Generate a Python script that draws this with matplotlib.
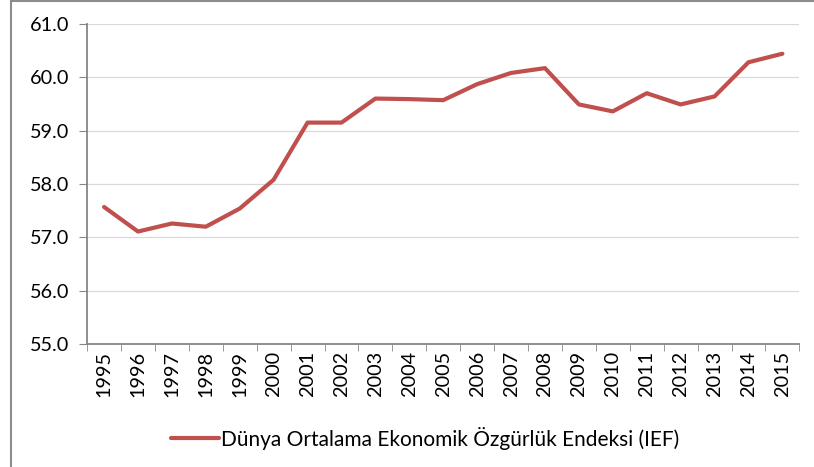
import matplotlib.pyplot as plt
from matplotlib.lines import Line2D

# data
years = ['1995', '1996', '1997', '1998', '1999', '2000', '2001', '2002', '2003', '2004', '2005',
         '2006', '2007', '2008', '2009', '2010', '2011', '2012', '2013', '2014', '2015']
ief = [57.57, 57.11, 57.26, 57.20, 57.54, 58.08, 59.15, 59.15, 59.60, 59.59, 59.57,
       59.87, 60.08, 60.17, 59.49, 59.36, 59.70, 59.49, 59.64, 60.28, 60.44]
series_name = 'Dünya Ortalama Ekonomik Özgürlük Endeksi (IEF)'
yticks = [55, 56, 57, 58, 59, 60, 61]

plt.rcParams['font.family'] = ['Lato', 'DejaVu Sans']

fig = plt.figure(figsize=(8.14, 4.67), dpi=100)
ax = fig.add_axes([0.107, 0.263, 0.875, 0.686])

x = list(range(len(years)))
ax.plot(x, ief, color='#C0504D', linewidth=3, solid_capstyle='round', label=series_name)

ax.set_xlim(-0.5, len(years) - 0.5)
ax.set_ylim(55, 61)
ax.set_yticks(yticks)
ax.set_yticklabels([f'{v:.1f}' for v in yticks], fontsize=14.3)
ax.set_xticks(x)
ax.set_xticklabels(years, rotation=90, fontsize=14.3)
ax.set_xticks([i - 0.5 for i in range(len(years) + 1)], minor=True)
ax.tick_params(axis='x', which='major', length=0, pad=5)
ax.tick_params(axis='x', which='minor', length=5, color='#868686', direction='out')
ax.tick_params(axis='y', length=6, color='#868686', pad=7)

ax.grid(axis='y', color='#d9d9d9', linewidth=0.9)
ax.set_axisbelow(True)
for s in ['top', 'right']:
    ax.spines[s].set_visible(False)
for s in ['left', 'bottom']:
    ax.spines[s].set_color('#868686')
    ax.spines[s].set_linewidth(1.3)

fig.legend(loc='center', bbox_to_anchor=(0.522, 0.062), frameon=False, fontsize=15,
           handlelength=2.3, handletextpad=0.1)

# outer chart border (only top and left visible in the crop)
fig.add_artist(Line2D([0.013, 0.013], [0, 1], color='#8c8c8c', linewidth=1.5, transform=fig.transFigure))
fig.add_artist(Line2D([0.013, 1], [0.998, 0.998], color='#8c8c8c', linewidth=1.5, transform=fig.transFigure))

fig.savefig('out.png', dpi=100)
